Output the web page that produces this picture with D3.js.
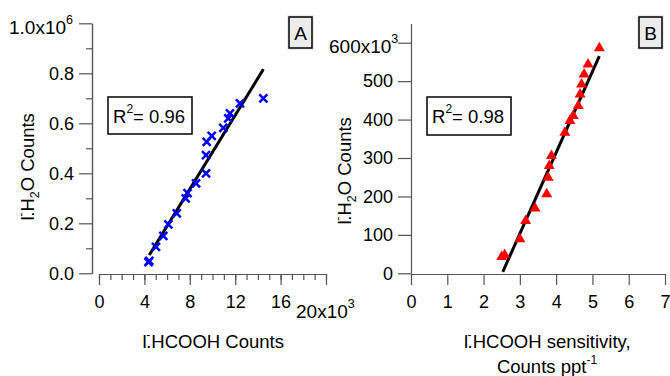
<!DOCTYPE html>
<html>
<head>
<meta charset="utf-8">
<script src="https://cdn.jsdelivr.net/npm/d3@7"></script>
<style>
  body { margin: 0; background: #fff; }
  text { font-family: 'Liberation Sans', Arial, sans-serif; fill: #000; }
</style>
</head>
<body>
<div class="canvas"></div>
<script>
const width = 670;
const height = 376;

// Panel A: I-.HCOOH counts (x10^3) vs I-.H2O counts (x10^6)
const countsA = [4.43, 4.36, 5.02, 5.67, 6.11, 6.85, 7.64, 7.80, 8.55, 9.43, 9.43, 9.49, 9.93, 10.95, 11.39, 11.54, 12.42, 14.48];
const waterA = [0.050, 0.045, 0.106, 0.150, 0.196, 0.240, 0.300, 0.321, 0.360, 0.400, 0.473, 0.526, 0.550, 0.582, 0.620, 0.640, 0.680, 0.700];
const fitAx = [4.43, 14.48];
const fitAy = [0.073, 0.816];

// Panel B: sensitivity (Counts ppt-1) vs I-.H2O counts (x10^3)
const sensB = [2.50, 2.58, 3.00, 3.16, 3.42, 3.74, 3.78, 3.81, 3.87, 4.24, 4.38, 4.47, 4.61, 4.66, 4.70, 4.77, 4.88, 5.19];
const waterB = [45, 50, 91, 139, 171, 208, 251, 282, 308, 368, 399, 412, 438, 468, 494, 520, 546, 588];
const fitBx = [2.53, 5.19];
const fitBy = [4, 565];

const yTicksA = [0, 0.2, 0.4, 0.6, 0.8, 1.0];
const xTicksA = [0, 4, 8, 12, 16, 20];
const yTicksB = [0, 100, 200, 300, 400, 500, 600];
const xTicksB = [0, 1, 2, 3, 4, 5, 6, 7];

const tickFont = 18;
const titleFont = 18.5;
const axisColor = '#555';

const svg = d3
  .select('.canvas')
  .append('svg')
  .attr('width', width)
  .attr('height', height);

// Scales
const xA = d3.scaleLinear().domain([0, 20]).range([99, 326]);
const yA = d3.scaleLinear().domain([0, 1]).range([273.3, 23.3]);
const xB = d3.scaleLinear().domain([0, 7]).range([411, 665]);
const yB = d3.scaleLinear().domain([0, 650]).range([273.3, 23.5]);

function styleAxis(g) {
  g.selectAll('path.domain').attr('stroke', axisColor).attr('stroke-width', 1.2);
  g.selectAll('.tick line').attr('stroke', axisColor).attr('stroke-width', 1.2);
  g.selectAll('.tick text')
    .attr('font-size', tickFont)
    .attr('font-family', "'Liberation Sans', Arial, sans-serif")
    .attr('fill', '#000');
}

// ---------- Panel A axes ----------
const axAyMinor = d3.axisLeft(yA).tickValues(d3.range(0.1, 1, 0.2)).tickSize(6).tickSizeOuter(0).tickFormat('');
svg.append('g').attr('transform', 'translate(92,0)').call(axAyMinor).call(styleAxis);

const axAy = d3
  .axisLeft(yA)
  .tickValues(yTicksA)
  .tickSize(13)
  .tickSizeOuter(0)
  .tickPadding(5)
  .tickFormat((d) => (d === 1 ? '' : d3.format('.1f')(d)));
svg.append('g').attr('transform', 'translate(92,0)').call(axAy).call(styleAxis);

const axAxMinor = d3.axisBottom(xA).tickValues(d3.range(0, 21, 1)).tickSize(6).tickSizeOuter(0).tickFormat('');
svg.append('g').attr('transform', 'translate(0,274)').call(axAxMinor).call(styleAxis);

const axAx = d3
  .axisBottom(xA)
  .tickValues(xTicksA)
  .tickSize(11)
  .tickSizeOuter(0)
  .tickPadding(10)
  .tickFormat((d) => (d === 20 ? '' : d));
svg.append('g').attr('transform', 'translate(0,274)').call(axAx).call(styleAxis);

// exponent labels
function expLabel(x, y, base, exp) {
  const t = svg.append('text').attr('x', x).attr('y', y).attr('font-size', 19);
  t.append('tspan').text(base);
  t.append('tspan').attr('dy', -10).attr('font-size', 12.5).text(exp);
  return t;
}
expLabel(9, 34, '1.0x10', '6');
expLabel(xA(20) - 30, 318, '20x10', '3');

// ---------- Panel B axes ----------
const axBy = d3
  .axisLeft(yB)
  .tickValues(yTicksB)
  .tickSize(13)
  .tickSizeOuter(0)
  .tickPadding(5)
  .tickFormat((d) => (d === 600 ? '' : d));
svg.append('g').attr('transform', 'translate(411,0)').call(axBy).call(styleAxis);

const axBx = d3
  .axisBottom(xB)
  .tickValues(xTicksB)
  .tickSize(11)
  .tickSizeOuter(0)
  .tickPadding(10)
  .tickFormat((d) => d);
svg.append('g').attr('transform', 'translate(0,274)').call(axBx).call(styleAxis);

expLabel(329, 53, '600x10', '3');

// ---------- Axis titles ----------
function ionLabel(t, rest) {
  t.append('tspan').text('I');
  t.append('tspan').attr('dx', -1).attr('dy', -9).attr('font-size', 12).text('-');
  t.append('tspan').attr('dx', -4).attr('dy', 9).text(rest);
}
function waterTitle(x, y) {
  const t = svg
    .append('text')
    .attr('transform', `translate(${x},${y}) rotate(-90)`)
    .attr('font-size', titleFont)
    .attr('text-anchor', 'middle');
  ionLabel(t, '.H');
  t.append('tspan').attr('dy', 5).attr('font-size', 12.5).text('2');
  t.append('tspan').attr('dy', -5).text('O Counts');
}
waterTitle(34, 167);
waterTitle(351, 171);

const xtA = svg.append('text').attr('x', 213).attr('y', 348).attr('font-size', titleFont).attr('text-anchor', 'middle');
ionLabel(xtA, '.HCOOH Counts');

const xtB = svg.append('text').attr('x', 547).attr('y', 348).attr('font-size', titleFont).attr('text-anchor', 'middle');
ionLabel(xtB, '.HCOOH sensitivity,');
const xtB2 = svg.append('text').attr('x', 547).attr('y', 373).attr('font-size', titleFont).attr('text-anchor', 'middle');
xtB2.append('tspan').text('Counts ppt');
xtB2.append('tspan').attr('dy', -9).attr('font-size', 12).text('-1');

// ---------- Fit lines ----------
const lineA = d3.line().x((d) => xA(d[0])).y((d) => yA(d[1]));
svg.append('path')
  .datum(d3.zip(fitAx, fitAy))
  .attr('d', lineA)
  .attr('stroke', '#000')
  .attr('stroke-width', 3)
  .attr('fill', 'none');

const lineB = d3.line().x((d) => xB(d[0])).y((d) => yB(d[1]));
svg.append('path')
  .datum(d3.zip(fitBx, fitBy))
  .attr('d', lineB)
  .attr('stroke', '#000')
  .attr('stroke-width', 3)
  .attr('fill', 'none');

// ---------- Markers ----------
const cross = 'M-4,-4L4,4M-4,4L4,-4';
svg.selectAll('path.crossA')
  .data(d3.zip(countsA, waterA))
  .enter()
  .append('path')
  .attr('class', 'crossA')
  .attr('transform', (d) => `translate(${xA(d[0])},${yA(d[1])})`)
  .attr('d', cross)
  .attr('stroke', '#0000ff')
  .attr('stroke-width', 2.5)
  .attr('fill', 'none');

const tri = 'M0,-5.5L5.5,4L-5.5,4Z';
svg.selectAll('path.triB')
  .data(d3.zip(sensB, waterB))
  .enter()
  .append('path')
  .attr('class', 'triB')
  .attr('transform', (d) => `translate(${xB(d[0])},${yB(d[1])})`)
  .attr('d', tri)
  .attr('fill', '#ff0000');

// ---------- Annotation boxes ----------
function r2Box(x, y, w, h, label) {
  svg.append('rect').attr('x', x).attr('y', y).attr('width', w).attr('height', h)
    .attr('fill', '#fff').attr('stroke', '#000').attr('stroke-width', 1.5);
  const t = svg.append('text').attr('x', x + 5).attr('y', y + h / 2 + 7).attr('font-size', titleFont);
  t.append('tspan').text('R');
  t.append('tspan').attr('dy', -10).attr('font-size', 12).text('2');
  t.append('tspan').attr('dy', 10).text('= ' + label);
}
r2Box(108, 97, 84, 37, '0.96');
r2Box(427, 97, 84, 38, '0.98');

function panelBox(x, y, label) {
  svg.append('rect').attr('x', x - 2).attr('y', y - 2).attr('width', 27).attr('height', 35).attr('fill', '#ececec');
  svg.append('rect').attr('x', x).attr('y', y).attr('width', 23).attr('height', 31)
    .attr('fill', '#ececec').attr('stroke', '#000').attr('stroke-width', 1.5);
  svg.append('text').attr('x', x + 11.5).attr('y', y + 23).attr('font-size', 19)
    .attr('text-anchor', 'middle').text(label);
}
panelBox(289, 17, 'A');
panelBox(639, 17, 'B');
</script>
</body>
</html>
